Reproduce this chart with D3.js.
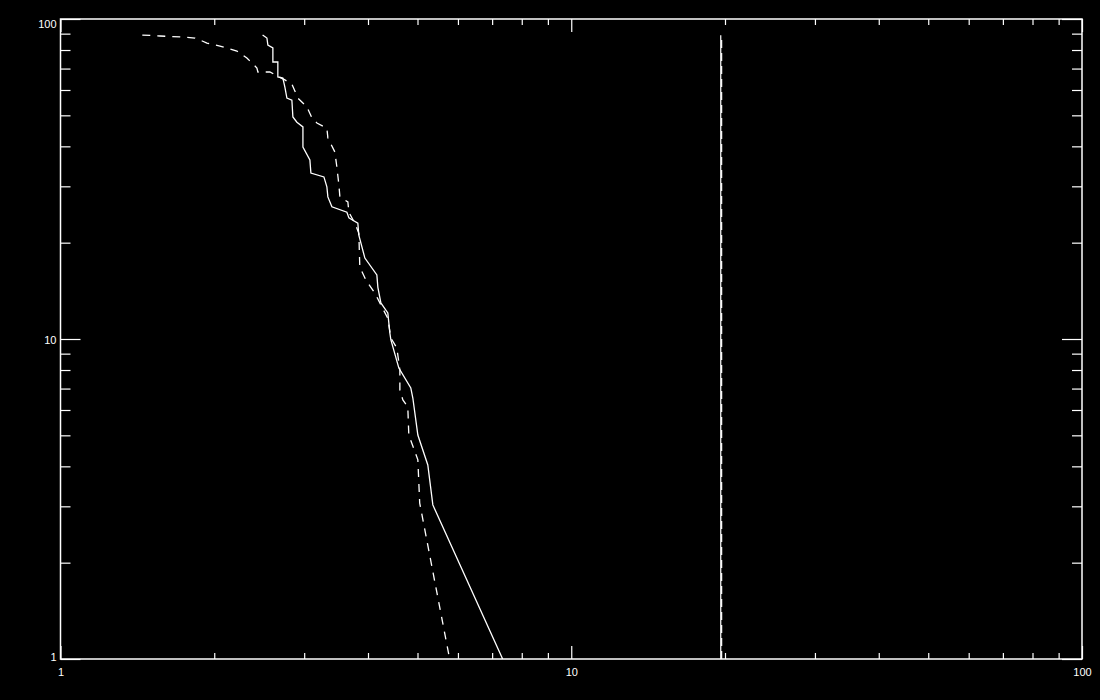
<!DOCTYPE html>
<html>
<head>
<meta charset="utf-8">
<script src="https://cdn.jsdelivr.net/npm/d3@7"></script>
<style>
  html, body { margin: 0; padding: 0; background: #000; }
  svg { display: block; }
  .tick text { font-family: "Liberation Sans", Arial, sans-serif; font-size: 11px; fill: #fff; }
</style>
</head>
<body>
<svg id="canvas" width="1100" height="700"></svg>
<script>
// dashed curve (x, y)
var dashedX = [1.446, 1.566, 1.713, 1.834, 1.875, 1.935, 2.052, 2.215, 2.317, 2.424, 2.435, 2.570,
    2.750, 2.838, 2.916, 3.037, 3.106, 3.177, 3.323, 3.338, 3.445, 3.476, 3.508, 3.524, 3.653, 3.670,
    3.770, 3.838, 3.855, 3.961, 4.126, 4.374, 4.435, 4.556, 4.618, 4.618, 4.681, 4.786, 4.808, 4.896,
    5.008, 5.05, 5.78];
var dashedY = [89.1, 88.5, 87.9, 87.2, 86.0, 84.1, 82.3, 79.4, 75.5, 70.3, 68.3, 68.3,
    64.5, 62.6, 56.6, 53.1, 49.1, 47.3, 45.6, 42.5, 38.4, 34.5, 30.3, 27.8, 26.8, 24.9,
    23.0, 21.4, 16.8, 15.3, 13.9, 11.6, 10.07, 9.37, 8.0, 6.93, 6.45, 6.13, 5.01, 4.63,
    4.19, 3.07, 1.0];

// solid curve
var solidX = [2.487, 2.536, 2.547, 2.605, 2.605, 2.664, 2.664, 2.725, 2.750, 2.775, 2.838, 2.851,
    2.903, 2.983, 2.983, 3.078, 3.092, 3.279, 3.323, 3.338, 3.399, 3.637, 3.670, 3.736, 3.821,
    3.838, 3.944, 4.163, 4.182, 4.239, 4.374, 4.414, 4.435, 4.597, 4.851, 4.896, 5.008, 5.238,
    5.358, 7.34];
var solidY = [89.1, 87.2, 82.9, 81.2, 73.4, 73.4, 65.9, 65.4, 61.3, 56.6, 55.8, 49.4,
    47.6, 46.0, 39.8, 36.3, 33.0, 32.1, 29.9, 27.8, 25.9, 24.9, 23.9, 23.5, 23.0,
    21.1, 17.9, 15.85, 14.5, 12.96, 12.06, 10.44, 9.93, 8.11, 7.03, 6.54, 5.01, 4.04,
    3.03, 1.0];

// vertical marker (solid + dashed drawn side by side)
var markerX = [19.62, 19.70];
var markerY = [1, 89];

var majorTicks = [1, 10, 100];
var majorLabels = ["1", "10", "100"];
var minorTicks = [2, 3, 4, 5, 6, 7, 8, 9, 20, 30, 40, 50, 60, 70, 80, 90];

function draw() {
    "use strict";

    var svg = d3.select(document.getElementById('canvas'));
    var left = 60.5, right = 1082, top = 19, bottom = 659;

    var x = d3.scaleLog().domain([1, 100]).range([left, right]);
    var y = d3.scaleLog().domain([1, 100]).range([bottom, top]);

    svg.append('rect').attr('width', 1100).attr('height', 700).attr('fill', '#000');

    var fmt = function(d) { return majorLabels[majorTicks.indexOf(d)]; };

    // bottom axis: labels + major ticks
    var gb = svg.append('g').attr('transform', 'translate(0,' + bottom + ')')
        .call(d3.axisBottom(x).tickValues(majorTicks).tickFormat(fmt).tickSizeInner(-13).tickSizeOuter(0).tickPadding(5));
    gb.selectAll('.tick text').attr('y', 17).attr('dy', 0);
    svg.append('g').attr('transform', 'translate(0,' + bottom + ')')
        .call(d3.axisBottom(x).tickValues(minorTicks).tickFormat('').tickSizeInner(-6).tickSizeOuter(0));

    // top axis
    svg.append('g').attr('transform', 'translate(0,' + top + ')')
        .call(d3.axisTop(x).tickValues(majorTicks).tickFormat('').tickSizeInner(-13).tickSizeOuter(0));
    svg.append('g').attr('transform', 'translate(0,' + top + ')')
        .call(d3.axisTop(x).tickValues(minorTicks).tickFormat('').tickSizeInner(-6).tickSizeOuter(0));

    // left axis
    var gl = svg.append('g').attr('transform', 'translate(' + left + ',0)')
        .call(d3.axisLeft(y).tickValues(majorTicks).tickFormat(fmt).tickSizeInner(-20).tickSizeOuter(0).tickPadding(24));
    gl.selectAll('.tick text').attr('x', -4).attr('dy', function(d) {
        // IDL nudges the end labels inside the frame
        return d === 100 ? '8px' : (d === 1 ? '1px' : '4px');
    });
    svg.append('g').attr('transform', 'translate(' + left + ',0)')
        .call(d3.axisLeft(y).tickValues(minorTicks).tickFormat('').tickSizeInner(-10).tickSizeOuter(0));

    // right axis
    svg.append('g').attr('transform', 'translate(' + right + ',0)')
        .call(d3.axisRight(y).tickValues(majorTicks).tickFormat('').tickSizeInner(-20).tickSizeOuter(0));
    svg.append('g').attr('transform', 'translate(' + right + ',0)')
        .call(d3.axisRight(y).tickValues(minorTicks).tickFormat('').tickSizeInner(-10).tickSizeOuter(0));

    svg.selectAll('.domain').remove();
    svg.selectAll('.tick line').attr('stroke', '#fff').attr('stroke-width', 1.2);

    // frame
    svg.append('rect')
        .attr('x', left).attr('y', top)
        .attr('width', right - left).attr('height', bottom - top)
        .attr('fill', 'none').attr('stroke', '#fff').attr('stroke-width', 1.5);

    var line = d3.line()
        .x(function(d) { return x(d[0]); })
        .y(function(d) { return y(d[1]); });

    var clip = svg.append('clipPath').attr('id', 'plotclip').append('rect')
        .attr('x', left).attr('y', top).attr('width', right - left).attr('height', bottom - top);

    var plot = svg.append('g').attr('clip-path', 'url(#plotclip)');

    plot.append('path')
        .datum(d3.zip(dashedX, dashedY))
        .attr('d', line)
        .attr('fill', 'none').attr('stroke', '#fff').attr('stroke-width', 1.3)
        .attr('stroke-dasharray', '8,7');

    plot.append('path')
        .datum(d3.zip(solidX, solidY))
        .attr('d', line)
        .attr('fill', 'none').attr('stroke', '#fff').attr('stroke-width', 1.3);

    plot.append('path')
        .datum(markerY.map(function(v) { return [markerX[0], v]; }))
        .attr('d', line)
        .attr('fill', 'none').attr('stroke', '#fff').attr('stroke-width', 1.2);

    plot.append('path')
        .datum(markerY.map(function(v) { return [markerX[1], v]; }))
        .attr('d', line)
        .attr('fill', 'none').attr('stroke', '#fff').attr('stroke-width', 1.2)
        .attr('stroke-dasharray', '8,5');
}

draw();
</script>
</body>
</html>
